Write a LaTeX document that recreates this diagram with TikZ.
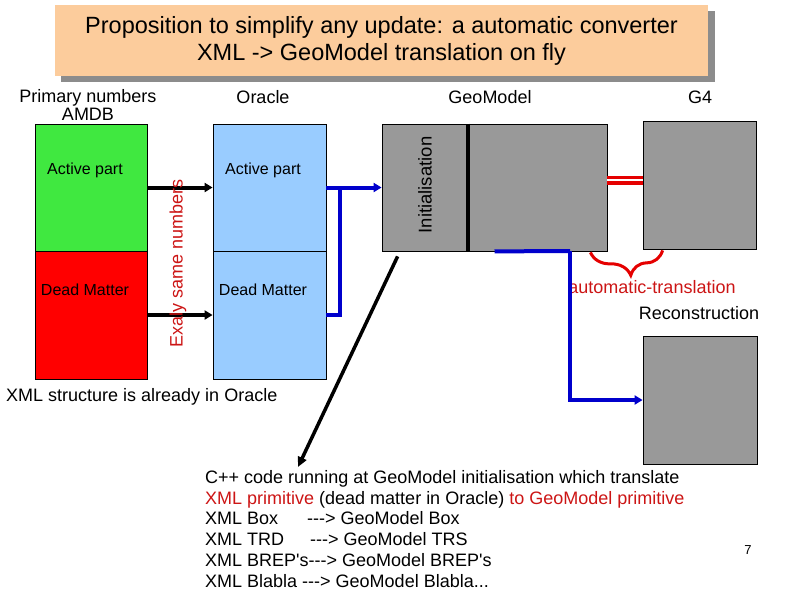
\documentclass[tikz,border=0pt]{standalone}
\usepackage{fontspec}
\setmainfont{Liberation Sans}[Ligatures=TeXOff]
\usetikzlibrary{positioning,decorations.pathreplacing,arrows.meta}
\definecolor{titlefill}{HTML}{FCCC9C}
\definecolor{shadowgray}{HTML}{8C8C8C}
\definecolor{activegreen}{HTML}{40E840}
\definecolor{oracleblue}{HTML}{99CCFF}
\definecolor{boxgray}{HTML}{999999}
\definecolor{linkblue}{HTML}{0000CC}
\definecolor{notered}{HTML}{CC1515}
\begin{document}
\begin{tikzpicture}[x=1pt, y=-1pt,
    partbox/.style={draw, line width=0.8pt, inner sep=0pt},
    lbl/.style={font=\fontsize{18}{18}\selectfont, inner sep=0pt},
    inlbl/.style={font=\fontsize{16}{16}\selectfont, inner sep=0pt},
    pushlink/.style={line width=4pt, -{Triangle[length=8pt,width=9pt]}},
    bluelink/.style={draw=linkblue, line width=4pt},
    translink/.style={draw=red!90!black, line width=3.5pt, double=white, double distance=2pt}]
    \useasboundingbox (0,0) rectangle (794,595);

    % Title with its shadow
    \fill[shadowgray] (61,11) rectangle (715,82);
    \node[fill=titlefill, minimum width=653pt, minimum height=71pt, align=center,
          font=\fontsize{23.5}{27}\selectfont] (title) at (381.5,40.5)
        {Proposition to simplify any update: a automatic converter\\XML -> GeoModel translation on fly};

    % Column headers
    \node[lbl, align=center, font=\fontsize{18}{16}\selectfont] (amdbHead) at (88,105) {Primary numbers\\AMDB};
    \node[lbl] (oracleHead) at (263,97) {Oracle};
    \node[lbl] (geoHead) at (490,97) {GeoModel};
    \node[lbl] (gfourHead) at (700,97) {G4};

    % AMDB and Oracle boxes
    \node[partbox, fill=activegreen, minimum width=112pt, minimum height=127pt] (amdbActive) at (91,187.5) {};
    \node[partbox, fill=red, minimum width=112pt, minimum height=128pt] (amdbDead) at (91,315) {};
    \node[partbox, fill=oracleblue, minimum width=113pt, minimum height=127pt] (oraActive) at (269.5,187.5) {};
    \node[partbox, fill=oracleblue, minimum width=113pt, minimum height=128pt] (oraDead) at (269.5,315) {};
    \node[inlbl] (amdbActiveText) at (85,170) {Active part};
    \node[inlbl] (amdbDeadText) at (85,290) {Dead Matter};
    \node[inlbl] (oraActiveText) at (263,170) {Active part};
    \node[inlbl] (oraDeadText) at (263,290) {Dead Matter};

    \draw[pushlink] (amdbActive.east) -- (oraActive.west);
    \draw[pushlink] (amdbDead.east) -- (oraDead.west);
    \node[lbl, rotate=90, text=notered] (sameNote) at (178,263) {Exaly same numbers};

    % GeoModel, G4 and reconstruction boxes
    \node[partbox, fill=boxgray, minimum width=225pt, minimum height=127pt] (geo) at (494.5,187.5) {};
    \draw[line width=4pt] ([xshift=-26.5pt]geo.north) -- ([xshift=-26.5pt]geo.south);
    \node[lbl, font=\fontsize{18.5}{18.5}\selectfont, rotate=90] (initText) at (425,185) {Initialisation};
    \node[partbox, fill=boxgray, minimum width=113pt, minimum height=128pt] (gfour) at (699.5,185) {};
    \node[partbox, fill=boxgray, minimum width=114pt, minimum height=128pt] (reco) at (700,400) {};

    % Oracle -> GeoModel
    \coordinate (joinPt) at (340,187.5);
    \draw[bluelink, -{Triangle[length=8pt,width=9pt]}] (oraActive.east) -- (geo.west);
    \draw[bluelink] (oraDead.east) -| (joinPt);

    % GeoModel -> G4 and reconstruction
    \draw[translink] ([yshift=7.5pt]geo.east) -- ([yshift=7.5pt]geo.east -| gfour.west);
    \draw[draw=red!90!black, line width=3pt, decorate,
          decoration={brace, mirror, amplitude=24pt, aspect=0.55}]
        ([xshift=-17pt,yshift=-1pt]geo.south east) -- ([xshift=20pt,yshift=-1pt]gfour.south west);
    \node[lbl, text=notered] (transText) at (652,287) {automatic-translation};
    \node[lbl] (recoText) at (699,313) {Reconstruction};
    \coordinate (recoBend) at (570,251);
    \draw[bluelink] (geo.south) -- (recoBend);
    \draw[bluelink, -{Triangle[length=8pt,width=9pt]}] (recoBend) |- (reco.west);

    \node[lbl, anchor=west] (oracleNote) at (6,397) {XML structure is already in Oracle};

    % C++ converter note
    \node[lbl, anchor=north west, align=left, font=\fontsize{18}{20.8}\selectfont] (cppNote) at (205,470)
        {C++ code running at GeoModel initialisation which translate\\
         \textcolor{notered}{XML primitive} (dead matter in Oracle) \textcolor{notered}{to GeoModel primitive}\\
         \makebox[102pt][l]{XML Box}---> GeoModel Box\\
         \makebox[105pt][l]{XML TRD}---> GeoModel TRS\\
         XML BREP's---> GeoModel BREP's\\
         XML Blabla ---> GeoModel Blabla...};
    \draw[line width=3.5pt, -{Triangle[length=10pt,width=9pt]}] ([xshift=16pt,yshift=-5pt]geo.south west) -- ([xshift=93pt,yshift=3pt]cppNote.north west);

    \node[font=\fontsize{13}{13}\selectfont, inner sep=0pt] (pageNum) at (748,550) {7};
\end{tikzpicture}
\end{document}
